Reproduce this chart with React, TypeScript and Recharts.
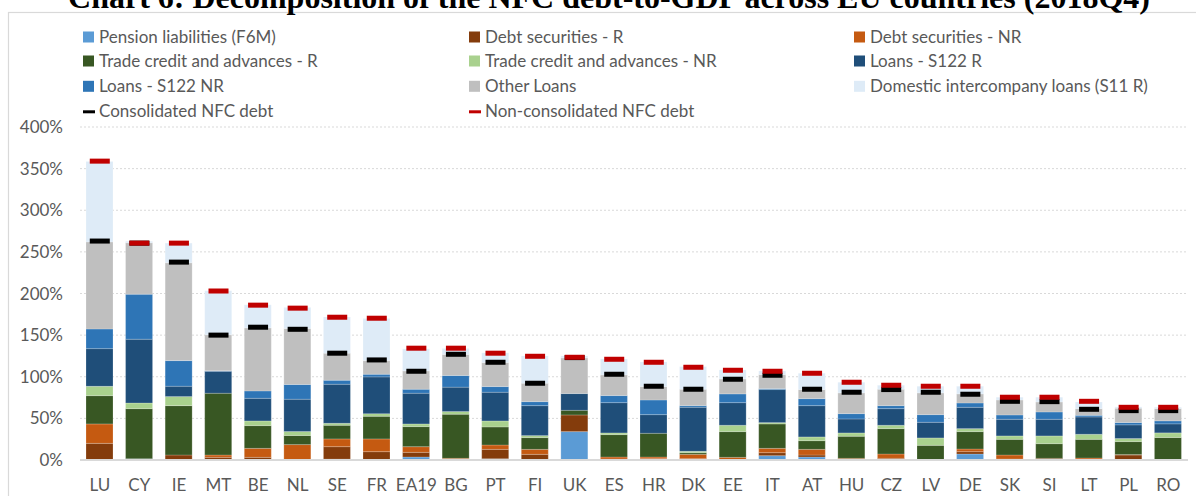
import React from 'react';
import { ComposedChart, Bar, Line, XAxis, YAxis, CartesianGrid, Legend } from 'recharts';

const countries = ['LU','CY','IE','MT','BE','NL','SE','FR','EA19','BG','PT','FI','UK','ES','HR','DK','EE','IT','AT','HU','CZ','LV','DE','SK','SI','LT','PL','RO'];

const pensionLiabilities = [0,1.5,0,0,0,0,1,0,3.6,0,1.5,0,34.1,0,0,0,0,5.2,3.6,0,0,0,7.2,0,0,0,0,0];
const debtSecuritiesR = [20,0,6,3.2,3.2,0.5,15,10,5.6,0.5,11.3,6.8,20,1.2,1.6,1.6,0,3.6,2.4,0,2,0.3,2.8,1.2,2,0,6,0.3];
const debtSecuritiesNR = [23.3,0,0,2.8,10.8,18,9.3,15.3,6.8,1.5,5.2,6,0,2.4,2,5.2,3.2,5.2,6.8,2,5.2,0.3,3.2,4.8,0,2.4,0.5,0.3];
const tradeCreditR = [34,60.2,59.3,74.2,27.3,10.9,16.4,27.2,24.1,53,21.7,14.1,5.6,26.9,28.5,2,30.9,29.3,10.4,26.5,30.5,17,20.9,18.8,17.6,22.4,15.6,26.4];
const tradeCreditNR = [11.2,6.8,10.9,0,5.6,4.8,2.4,3.2,3.2,3.2,7.2,2.4,0,2,0,1.6,7.6,1.6,4.5,4,4,8.9,3.6,4.1,9.3,6.1,3.7,5.6];
const loansS122R = [45.3,76.6,12.4,26.4,27.2,38.8,46.9,44.1,36.9,29.3,34.5,36,20.1,36.4,22.4,52.9,27.2,39.7,37.6,16.8,20,18.8,25.6,20,20,20.8,16.4,10.8];
const loansS122NR = [23.6,54.1,30.8,0.5,8.9,17.7,4.8,3.2,4.8,14,6.8,4.8,0,8.5,17.6,2,10.5,1.2,8.4,6.4,3.6,9.2,5.2,5.2,8.8,2,2.8,3.6];
const otherLoans = [104.6,61.7,117.5,43.3,75.7,67.3,32.5,16.4,22,25.3,28.8,22.1,42.8,24.8,16.1,19.7,18,16.8,10.9,24.9,19.7,26.1,10.9,18,12,8,17.2,14.8];
const domesticIntercompany = [96.6,2,23.6,52.9,27.7,25.3,43.6,50.5,26.5,7.2,11.7,32.8,2.4,19.2,29.6,27.2,10.8,4.4,19.6,12.8,4.8,8,9.2,3.3,5.7,8,1.6,1.6];
const consolidatedDebt = [263,260.5,237.7,150,159.5,157,128.3,120.2,106.6,127,117.4,92.2,123,103,88.6,85,97,101.8,85,81.4,84.6,81.4,79,70.5,70.1,60.9,59.3,59.3];
const nonConsolidatedDebt = [359,260.5,260.5,203,186,182.4,171.5,170.3,134.3,134.3,128.3,124.6,123.4,121,117.4,111.4,107.8,106.6,104.2,93.4,89.8,88.6,88.6,75.4,75.4,70.5,63.3,63.3];

const yTicks = [0, 50, 100, 150, 200, 250, 300, 350, 400];
const title = 'Chart 6: Decomposition of the NFC debt-to-GDP across EU countries (2018Q4)';

const barSeries = [
  { key: 'pension', name: 'Pension liabilities (F6M)', color: '#5B9BD5', values: pensionLiabilities },
  { key: 'debtR', name: 'Debt securities - R', color: '#843C0C', values: debtSecuritiesR },
  { key: 'debtNR', name: 'Debt securities - NR', color: '#C55A11', values: debtSecuritiesNR },
  { key: 'tcR', name: 'Trade credit and advances - R', color: '#385723', values: tradeCreditR },
  { key: 'tcNR', name: 'Trade credit and advances - NR', color: '#A9D18E', values: tradeCreditNR },
  { key: 'loansR', name: 'Loans - S122 R', color: '#1F4E79', values: loansS122R },
  { key: 'loansNR', name: 'Loans - S122 NR', color: '#2E75B6', values: loansS122NR },
  { key: 'other', name: 'Other Loans', color: '#BFBFBF', values: otherLoans },
  { key: 'domestic', name: 'Domestic intercompany loans (S11 R)', color: '#DEEBF7', values: domesticIntercompany },
];
const markerSeries = [
  { key: 'cons', name: 'Consolidated NFC debt', color: '#000000', values: consolidatedDebt },
  { key: 'noncons', name: 'Non-consolidated NFC debt', color: '#C00000', values: nonConsolidatedDebt },
];

const data = countries.map((c, i) => {
  const row: Record<string, string | number> = { country: c };
  barSeries.forEach(s => { row[s.key] = s.values[i]; });
  markerSeries.forEach(s => { row[s.key] = s.values[i]; });
  return row;
});

const FONT = 'Lato, "Noto Sans", sans-serif';
const TEXT = '#595959';

const legendItems = [...barSeries.map(s => ({ name: s.name, color: s.color, kind: 'square' })), ...markerSeries.map(s => ({ name: s.name, color: s.color, kind: 'line' }))];
const colX = [83, 469, 854];
const rowBase = [42.5, 66.5, 91.8, 117.3];

const renderLegend = () => (
  <svg width={1196} height={130} style={{ position: 'absolute', left: 0, top: 0, overflow: 'visible' }}>
    {legendItems.map((it, i) => {
      const col = i % 3;
      const row = Math.floor(i / 3);
      const x = colX[col];
      const b = rowBase[row];
      return (
        <g key={it.name}>
          {it.kind === 'square' ? (
            <rect x={x} y={b - 11} width={11} height={11} fill={it.color} />
          ) : (
            <rect x={x} y={b - 7} width={12} height={3} fill={it.color} />
          )}
          <text x={x + 16} y={b} fill={TEXT} fontSize={17} fontFamily={FONT}>{it.name}</text>
        </g>
      );
    })}
  </svg>
);

const makeMarker = (color: string) => (props: any) => {
  const { cx, cy, index } = props;
  if (cx == null || cy == null) return <g key={`m-${color}-${index}`} />;
  return <rect key={`m-${color}-${index}`} x={cx - 10} y={cy - 2.5} width={20} height={5} fill={color} />;
};

export default function App() {
  return (
    <div style={{ position: 'absolute', left: 0, top: 0, width: 1196, height: 496, background: '#fff', overflow: 'hidden' }}>
      <svg width={1196} height={496} style={{ position: 'absolute', left: 0, top: 0 }}>
        <rect x={8.5} y={12.5} width={1300} height={600} fill="none" stroke="#D9D9D9" strokeWidth={1.2} />
        <text x={609} y={8} textAnchor="middle" fontFamily='"Liberation Serif", "Times New Roman", serif' fontWeight="bold" fontSize={32} fill="#000">{title}</text>
      </svg>
      <div style={{ position: 'absolute', left: 0, top: 0 }}>
        <ComposedChart width={1196} height={496} data={data} margin={{ top: 127, right: 8, bottom: 6, left: 0 }} barSize={27}>
          <CartesianGrid vertical={false} stroke="#D9D9D9" strokeDasharray="2 2" />
          <XAxis dataKey="country" interval={0} height={30} tickLine={false} tickSize={0} tickMargin={19}
            axisLine={{ stroke: '#D9D9D9', strokeWidth: 2 }}
            tick={{ fill: TEXT, fontSize: 17, fontFamily: FONT }} />
          <YAxis domain={[0, 400]} ticks={yTicks} width={80} axisLine={false} tickLine={false} tickSize={0} tickMargin={17}
            tickFormatter={(v: number) => `${v}%`}
            tick={{ fill: TEXT, fontSize: 17, fontFamily: FONT }} />
          <Legend layout="vertical" align="center" verticalAlign="middle" content={renderLegend}
            wrapperStyle={{ position: 'absolute', left: 0, top: 0, width: 1196, height: 130 }} />
          {barSeries.map(s => (
            <Bar key={s.key} dataKey={s.key} name={s.name} stackId="a" fill={s.color}
              stroke="#FFFFFF" strokeOpacity={0.25} strokeWidth={0.8} isAnimationActive={false} />
          ))}
          {markerSeries.map(s => (
            <Line key={s.key} dataKey={s.key} name={s.name} stroke="none" strokeWidth={0}
              dot={makeMarker(s.color)} activeDot={false} isAnimationActive={false} legendType="none" />
          ))}
        </ComposedChart>
      </div>
    </div>
  );
}
